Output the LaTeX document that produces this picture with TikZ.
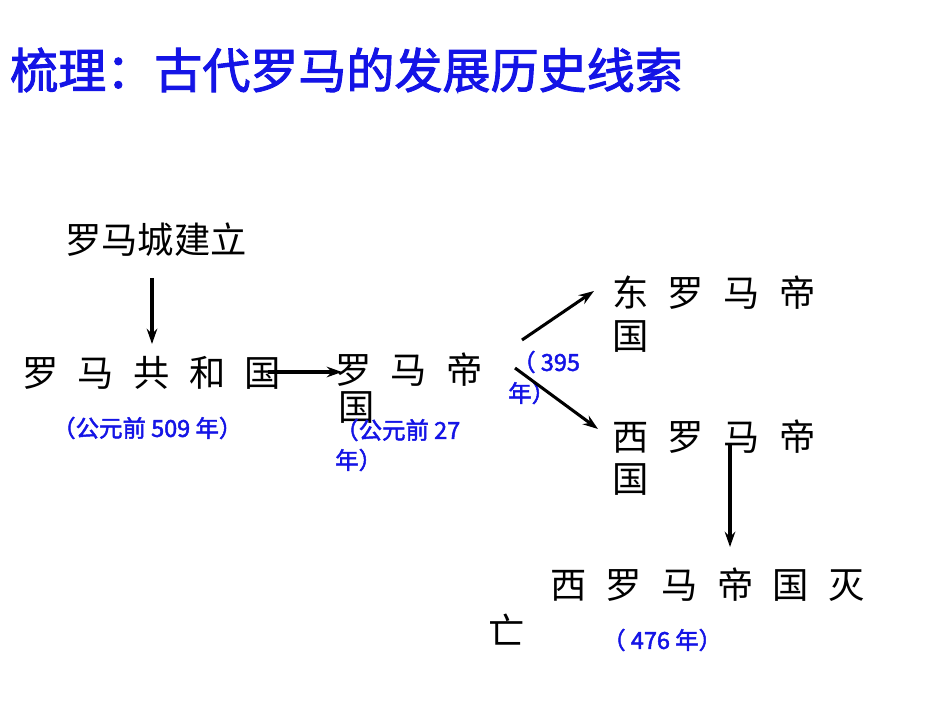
\documentclass[tikz,border=0pt]{standalone}
\usepackage{fontspec}
\usetikzlibrary{arrows.meta}
\newfontfamily\cjk{Noto Sans CJK SC}
\newfontfamily\cjkb[FakeBold=2]{Noto Sans CJK SC}
\definecolor{tblue}{RGB}{20,20,230}
\begin{document}
\begin{tikzpicture}[x=0.03cm,y=-0.03cm,
  blk/.style={inner sep=0,anchor=west,font=\cjk\fontsize{31}{38}\selectfont},
  lbl/.style={inner sep=0,anchor=west,text=tblue,font=\cjkb\fontsize{20}{24}\selectfont},
  arr/.style={-{Stealth[length=13pt,width=9pt]},line width=2.6pt}]
\fill[white] (0,0) rectangle (950,713);
\node[inner sep=0,anchor=west,text=tblue,font=\cjkb\fontsize{41}{48}\selectfont] (title) at (10,70) {梳理：古代罗马的发展历史线索};
\def\g{\hskip0.58cm}
\node[blk] (city) at (65,240) {罗马城建立};
\node[blk] (rep) at (22,373) {罗\g 马\g 共\g 和\g 国};
\node[lbl] (d1) at (52,428) {（公元前 509 年）};
\node[blk] (emp) at (335,370) {罗\g 马\g 帝};
\node[blk] (emp2) at (338,408) {国};
\node[lbl] (d2) at (335,430) {（公元前 27};
\node[lbl] (d2b) at (335,460) {年）};
\node[lbl] (d3) at (512,362) {（ 395};
\node[lbl] (d3b) at (508,393) {年）};
\node[blk] (east) at (612,293) {东\g 罗\g 马\g 帝};
\node[blk] (east2) at (612,337) {国};
\node[blk] (west) at (612,437) {西\g 罗\g 马\g 帝};
\node[blk] (west2) at (612,480) {国};
\node[blk] (fall) at (550,585) {西\g 罗\g 马\g 帝\g 国\g 灭};
\node[blk] (fall2) at (488,630) {亡};
\node[lbl] (d4) at (602,640) {（ 476 年）};
\coordinate (a1s) at (152,278); \coordinate (a1e) at (152,344);
\coordinate (a2s) at (268,372); \coordinate (a2e) at (342,372);
\coordinate (a3s) at (522,340); \coordinate (a3e) at (594,291);
\coordinate (a4s) at (515,368); \coordinate (a4e) at (598,429);
\coordinate (a5s) at (730,445); \coordinate (a5e) at (730,547);
\draw[arr] (a1s) -- (a1e);
\draw[arr] (a2s) -- (a2e);
\draw[arr] (a3s) -- (a3e);
\draw[arr] (a4s) -- (a4e);
\draw[arr] (a5s) -- (a5e);
\end{tikzpicture}
\end{document}
